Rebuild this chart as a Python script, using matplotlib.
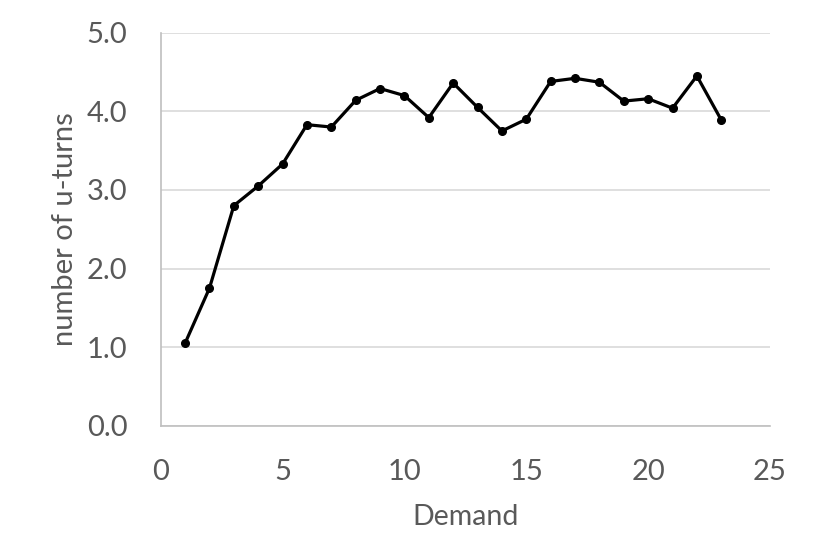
import matplotlib
matplotlib.use('Agg')
import matplotlib.pyplot as plt

# values
demand = list(range(1, 24))
uturns = [1.05, 1.75, 2.80, 3.05, 3.33, 3.83, 3.80, 4.14, 4.29, 4.20, 3.92, 4.36,
          4.05, 3.75, 3.90, 4.38, 4.42, 4.37, 4.13, 4.16, 4.04, 4.45, 3.89]
x_ticks = [0, 5, 10, 15, 20, 25]
y_ticks = [0.0, 1.0, 2.0, 3.0, 4.0, 5.0]

plt.rcParams['font.family'] = ['Lato', 'DejaVu Sans']
text_color = '#595959'

fig = plt.figure(figsize=(8.23, 5.5), dpi=100)
ax = fig.add_axes([0.1953, 0.226, 0.7403, 0.7145])

ax.plot(demand, uturns, color='black', linewidth=2.3, marker='o', markersize=5.5, zorder=3)

ax.set_xlim(0, 25)
ax.set_ylim(0, 5)
ax.set_xticks(x_ticks)
ax.set_yticks(y_ticks)
ax.set_yticklabels(['%.1f' % v for v in y_ticks])

ax.grid(axis='y', color='#d9d9d9', linewidth=1.2)
ax.set_axisbelow(True)
for side in ['top', 'right']:
    ax.spines[side].set_visible(False)
for side in ['left', 'bottom']:
    ax.spines[side].set_color('#bfbfbf')
    ax.spines[side].set_linewidth(1.2)

ax.tick_params(axis='both', length=0, labelsize=21, labelcolor=text_color)
ax.tick_params(axis='y', pad=24)
ax.tick_params(axis='x', pad=24)

ax.set_xlabel('Demand', fontsize=20.5, color=text_color, labelpad=14)
ax.set_ylabel('number of u-turns', fontsize=21, color=text_color, labelpad=6)

fig.savefig('out.png', dpi=100)
